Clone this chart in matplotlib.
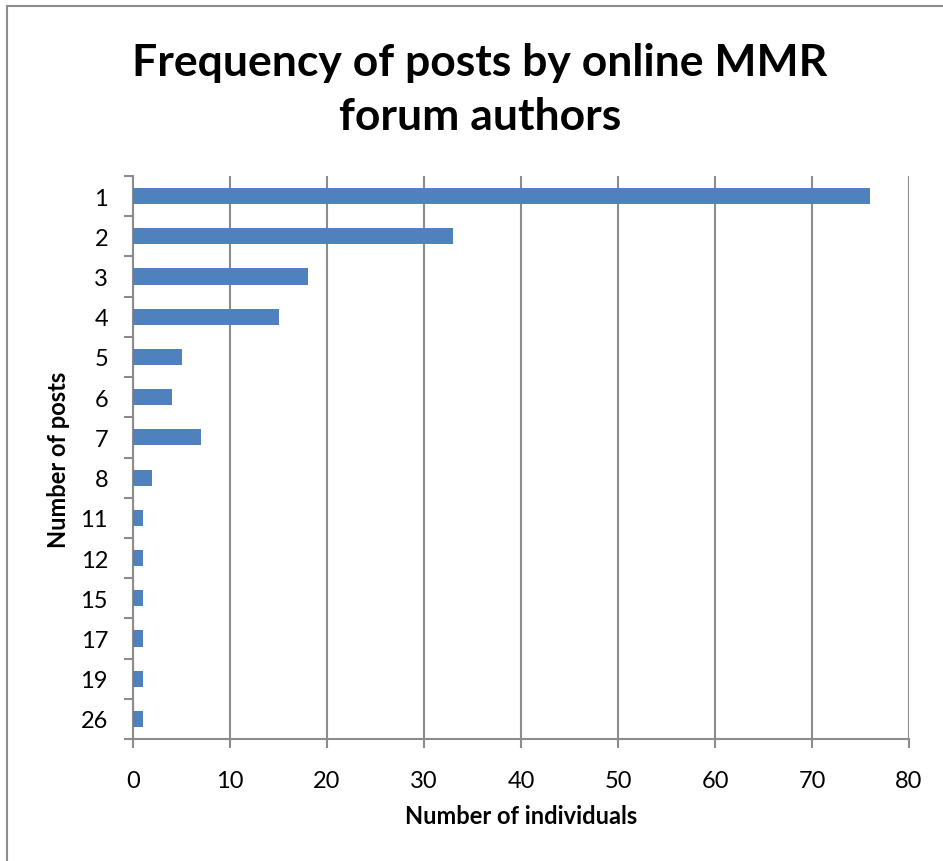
import numpy as np
import matplotlib
matplotlib.use('Agg')
import matplotlib.pyplot as plt
import matplotlib.patches as patches

# data
posts = ['1', '2', '3', '4', '5', '6', '7', '8', '11', '12', '15', '17', '19', '26']
individuals = [76, 33, 18, 15, 5, 4, 7, 2, 1, 1, 1, 1, 1, 1]
x_ticks = [0, 10, 20, 30, 40, 50, 60, 70, 80]

BAR_COLOR = '#4f81bd'
GRID_COLOR = '#8c8c8c'
plt.rcParams['font.family'] = ['Lato', 'DejaVu Sans']

W, H = 943, 862
fig = plt.figure(figsize=(W / 100, H / 100), dpi=100)
ax = fig.add_axes([133 / W, 1 - 740 / H, (909 - 133) / W, (740 - 177) / H])

# outer chart frame (runs off the right/bottom edge as in the reference)
frame = patches.Rectangle((7.5 / W, -0.05), 1.1, 1 - 6.5 / H + 0.05, transform=fig.transFigure,
                          fill=False, edgecolor=GRID_COLOR, linewidth=1.5, clip_on=False)
fig.patches.append(frame)

y = np.arange(len(posts))
ax.barh(y, individuals, height=0.4, color=BAR_COLOR, zorder=3)
ax.set_ylim(len(posts) - 0.5, -0.5)
ax.set_xlim(0, 80)

ax.set_xticks(x_ticks)
ax.set_yticks(y)
ax.set_yticklabels(posts)
ax.set_yticks(np.arange(len(posts) + 1) - 0.5, minor=True)
ax.tick_params(axis='y', which='major', length=0, pad=18, labelsize=17)
ax.tick_params(axis='y', which='minor', length=6.5, width=1.5, color=GRID_COLOR, direction='out')
ax.tick_params(axis='x', length=6.5, width=1.5, color=GRID_COLOR, direction='out', pad=16, labelsize=17)

ax.grid(axis='x', color=GRID_COLOR, linewidth=1.5, zorder=0)
for s in ['top', 'right']:
    ax.spines[s].set_visible(False)
for s in ['left', 'bottom']:
    ax.spines[s].set_color(GRID_COLOR)
    ax.spines[s].set_linewidth(1.5)

fig.text(521 / W, 1 - 817 / H, 'Number of individuals', ha='center', va='center',
         fontsize=17, fontweight='bold')
fig.text(58 / W, 1 - 460 / H, 'Number of posts', ha='center', va='center', rotation=90,
         fontsize=17, fontweight='bold')
fig.text(480 / W, 1 - 90 / H, 'Frequency of posts by online MMR\nforum authors', ha='center', va='center',
         fontsize=32, fontweight='bold', linespacing=1.42)

fig.savefig('out.png', dpi=100)
